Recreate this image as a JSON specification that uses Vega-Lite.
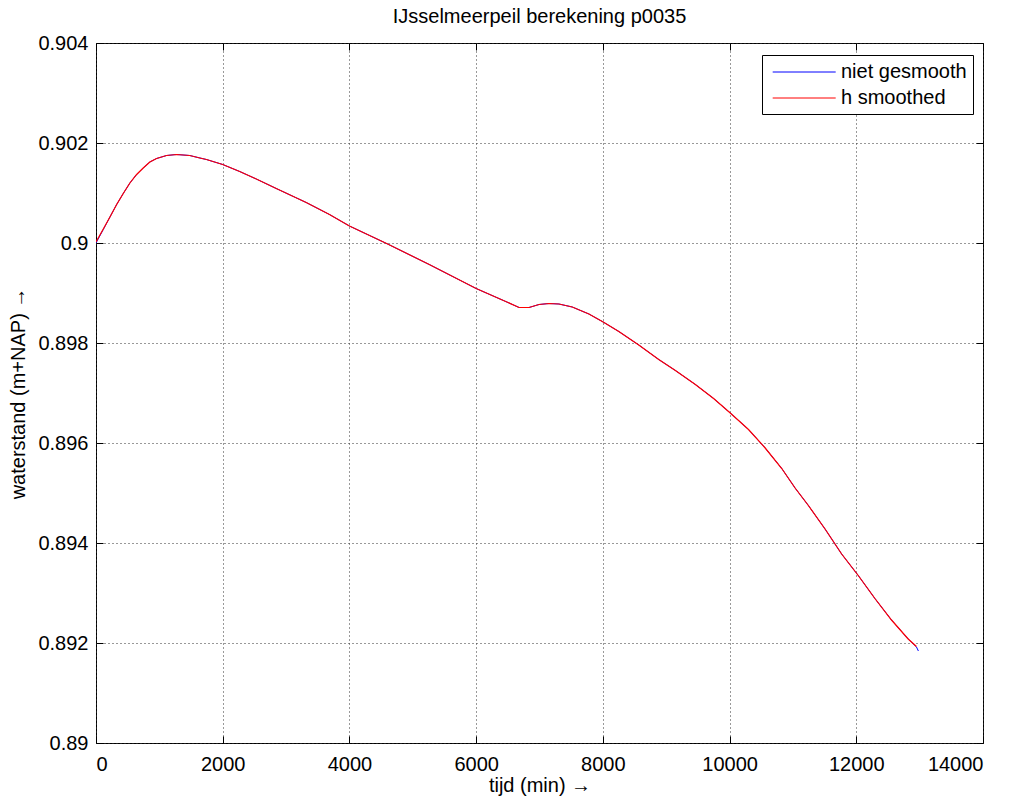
{
  "$schema": "https://vega.github.io/schema/vega-lite/v6.json",
  "width": 887,
  "height": 700,
  "autosize": {"type": "none"},
  "padding": {"left": 96, "top": 43, "right": 36, "bottom": 57},
  "background": "white",
  "title": {"text": "IJsselmeerpeil berekening p0035", "fontSize": 20, "font": "Liberation Sans", "fontWeight": "normal", "offset": 6, "anchor": "middle", "color": "black"},
  "config": {
    "view": {"stroke": "black", "strokeWidth": 1},
    "font": "Liberation Sans",
    "legend": {
      "orient": "none", "legendX": 666, "legendY": 12, "title": null,
      "symbolType": "M-0.6,0H5.4", "symbolSize": 441, "symbolStrokeWidth": 1,
      "labelFontSize": 20, "labelFont": "Liberation Sans", "labelColor": "black",
      "labelOffset": 51, "strokeColor": "black", "fillColor": "white",
      "padding": 6, "rowPadding": 5
    }
  },
  "data": {"values": [
    {"series": "niet gesmooth", "t": 0, "v": 0.9},
    {"series": "niet gesmooth", "t": 115, "v": 0.90027},
    {"series": "niet gesmooth", "t": 220, "v": 0.90052},
    {"series": "niet gesmooth", "t": 326, "v": 0.90077},
    {"series": "niet gesmooth", "t": 430, "v": 0.90099},
    {"series": "niet gesmooth", "t": 535, "v": 0.9012},
    {"series": "niet gesmooth", "t": 641, "v": 0.90137},
    {"series": "niet gesmooth", "t": 745, "v": 0.9015},
    {"series": "niet gesmooth", "t": 850, "v": 0.90162},
    {"series": "niet gesmooth", "t": 956, "v": 0.90169},
    {"series": "niet gesmooth", "t": 1113, "v": 0.90175},
    {"series": "niet gesmooth", "t": 1271, "v": 0.90177},
    {"series": "niet gesmooth", "t": 1480, "v": 0.90175},
    {"series": "niet gesmooth", "t": 1640, "v": 0.9017},
    {"series": "niet gesmooth", "t": 1743, "v": 0.90167},
    {"series": "niet gesmooth", "t": 2000, "v": 0.90157},
    {"series": "niet gesmooth", "t": 2268, "v": 0.90143},
    {"series": "niet gesmooth", "t": 2530, "v": 0.90128},
    {"series": "niet gesmooth", "t": 2845, "v": 0.90109},
    {"series": "niet gesmooth", "t": 3318, "v": 0.90081},
    {"series": "niet gesmooth", "t": 3685, "v": 0.90057},
    {"series": "niet gesmooth", "t": 4000, "v": 0.90034},
    {"series": "niet gesmooth", "t": 4603, "v": 0.89998},
    {"series": "niet gesmooth", "t": 5260, "v": 0.89957},
    {"series": "niet gesmooth", "t": 6000, "v": 0.89909},
    {"series": "niet gesmooth", "t": 6467, "v": 0.89883},
    {"series": "niet gesmooth", "t": 6677, "v": 0.89871},
    {"series": "niet gesmooth", "t": 6835, "v": 0.89871},
    {"series": "niet gesmooth", "t": 6992, "v": 0.89877},
    {"series": "niet gesmooth", "t": 7150, "v": 0.89879},
    {"series": "niet gesmooth", "t": 7307, "v": 0.89878},
    {"series": "niet gesmooth", "t": 7517, "v": 0.89872},
    {"series": "niet gesmooth", "t": 7780, "v": 0.89858},
    {"series": "niet gesmooth", "t": 8005, "v": 0.89842},
    {"series": "niet gesmooth", "t": 8252, "v": 0.89823},
    {"series": "niet gesmooth", "t": 8567, "v": 0.89796},
    {"series": "niet gesmooth", "t": 8882, "v": 0.89767},
    {"series": "niet gesmooth", "t": 9145, "v": 0.89745},
    {"series": "niet gesmooth", "t": 9460, "v": 0.89717},
    {"series": "niet gesmooth", "t": 9748, "v": 0.89689},
    {"series": "niet gesmooth", "t": 10011, "v": 0.8966},
    {"series": "niet gesmooth", "t": 10299, "v": 0.89627},
    {"series": "niet gesmooth", "t": 10562, "v": 0.8959},
    {"series": "niet gesmooth", "t": 10824, "v": 0.89549},
    {"series": "niet gesmooth", "t": 11034, "v": 0.8951},
    {"series": "niet gesmooth", "t": 11244, "v": 0.89475},
    {"series": "niet gesmooth", "t": 11507, "v": 0.89428},
    {"series": "niet gesmooth", "t": 11769, "v": 0.89378},
    {"series": "niet gesmooth", "t": 12031, "v": 0.89335},
    {"series": "niet gesmooth", "t": 12294, "v": 0.89289},
    {"series": "niet gesmooth", "t": 12556, "v": 0.89246},
    {"series": "niet gesmooth", "t": 12819, "v": 0.89208},
    {"series": "niet gesmooth", "t": 12950, "v": 0.89192},
    {"series": "niet gesmooth", "t": 12980, "v": 0.89184},
    {"series": "h smoothed", "t": 0, "v": 0.90002},
    {"series": "h smoothed", "t": 115, "v": 0.90028},
    {"series": "h smoothed", "t": 220, "v": 0.90052},
    {"series": "h smoothed", "t": 326, "v": 0.90077},
    {"series": "h smoothed", "t": 430, "v": 0.90099},
    {"series": "h smoothed", "t": 535, "v": 0.9012},
    {"series": "h smoothed", "t": 641, "v": 0.90137},
    {"series": "h smoothed", "t": 745, "v": 0.9015},
    {"series": "h smoothed", "t": 850, "v": 0.90162},
    {"series": "h smoothed", "t": 956, "v": 0.90169},
    {"series": "h smoothed", "t": 1113, "v": 0.90175},
    {"series": "h smoothed", "t": 1271, "v": 0.90177},
    {"series": "h smoothed", "t": 1480, "v": 0.90175},
    {"series": "h smoothed", "t": 1640, "v": 0.9017},
    {"series": "h smoothed", "t": 1743, "v": 0.90167},
    {"series": "h smoothed", "t": 2000, "v": 0.90157},
    {"series": "h smoothed", "t": 2268, "v": 0.90143},
    {"series": "h smoothed", "t": 2530, "v": 0.90128},
    {"series": "h smoothed", "t": 2845, "v": 0.90109},
    {"series": "h smoothed", "t": 3318, "v": 0.90081},
    {"series": "h smoothed", "t": 3685, "v": 0.90057},
    {"series": "h smoothed", "t": 4000, "v": 0.90034},
    {"series": "h smoothed", "t": 4603, "v": 0.89998},
    {"series": "h smoothed", "t": 5260, "v": 0.89957},
    {"series": "h smoothed", "t": 6000, "v": 0.89909},
    {"series": "h smoothed", "t": 6467, "v": 0.89883},
    {"series": "h smoothed", "t": 6677, "v": 0.89871},
    {"series": "h smoothed", "t": 6835, "v": 0.89871},
    {"series": "h smoothed", "t": 6992, "v": 0.89877},
    {"series": "h smoothed", "t": 7150, "v": 0.89879},
    {"series": "h smoothed", "t": 7307, "v": 0.89878},
    {"series": "h smoothed", "t": 7517, "v": 0.89872},
    {"series": "h smoothed", "t": 7780, "v": 0.89858},
    {"series": "h smoothed", "t": 8005, "v": 0.89842},
    {"series": "h smoothed", "t": 8252, "v": 0.89823},
    {"series": "h smoothed", "t": 8567, "v": 0.89796},
    {"series": "h smoothed", "t": 8882, "v": 0.89767},
    {"series": "h smoothed", "t": 9145, "v": 0.89745},
    {"series": "h smoothed", "t": 9460, "v": 0.89717},
    {"series": "h smoothed", "t": 9748, "v": 0.89689},
    {"series": "h smoothed", "t": 10011, "v": 0.8966},
    {"series": "h smoothed", "t": 10299, "v": 0.89627},
    {"series": "h smoothed", "t": 10562, "v": 0.8959},
    {"series": "h smoothed", "t": 10824, "v": 0.89549},
    {"series": "h smoothed", "t": 11034, "v": 0.8951},
    {"series": "h smoothed", "t": 11244, "v": 0.89475},
    {"series": "h smoothed", "t": 11507, "v": 0.89428},
    {"series": "h smoothed", "t": 11769, "v": 0.89378},
    {"series": "h smoothed", "t": 12031, "v": 0.89335},
    {"series": "h smoothed", "t": 12294, "v": 0.89289},
    {"series": "h smoothed", "t": 12556, "v": 0.89246},
    {"series": "h smoothed", "t": 12819, "v": 0.89208},
    {"series": "h smoothed", "t": 12950, "v": 0.89193}
  ]},
  "layer": [
    {
      "transform": [{"filter": "datum.series === 'niet gesmooth'"}],
      "mark": {"type": "line", "strokeWidth": 1, "clip": true},
      "encoding": {
        "x": {"field": "t", "type": "quantitative",
              "scale": {"domain": [0, 14000], "nice": false, "zero": false},
              "axis": {"orient": "bottom", "title": "tijd (min) →", "titleFontSize": 20, "titleFont": "Liberation Sans", "titleFontWeight": "normal", "titleColor": "black", "titlePadding": 1,
                       "values": [0, 2000, 4000, 6000, 8000, 10000, 12000, 14000], "format": "d",
                       "labelFontSize": 20, "labelFont": "Liberation Sans", "labelColor": "black", "labelPadding": 18,
                       "domain": false, "tickSize": -7, "tickColor": "black",
                       "grid": true, "gridColor": "#333", "gridDash": [1, 3], "gridWidth": 1}},
        "y": {"field": "v", "type": "quantitative",
              "scale": {"domain": [0.89, 0.904], "nice": false, "zero": false},
              "axis": {"orient": "left", "title": "waterstand (m+NAP) →", "titleFontSize": 20, "titleFont": "Liberation Sans", "titleFontWeight": "normal", "titleColor": "black", "titlePadding": 9,
                       "values": [0.89, 0.892, 0.894, 0.896, 0.898, 0.9, 0.902, 0.904],
                       "labelExpr": "format(datum.value, '.3~f')",
                       "labelFontSize": 20, "labelFont": "Liberation Sans", "labelColor": "black", "labelPadding": 15,
                       "domain": false, "tickSize": -7, "tickColor": "black",
                       "grid": true, "gridColor": "#333", "gridDash": [1, 3], "gridWidth": 1}},
        "color": {"field": "series", "type": "nominal",
                  "scale": {"domain": ["niet gesmooth", "h smoothed"], "range": ["#0000ff", "#ff0000"]}}
      }
    },
    {
      "transform": [{"filter": "datum.series === 'h smoothed'"}],
      "mark": {"type": "line", "strokeWidth": 1.2, "clip": true},
      "encoding": {
        "x": {"field": "t", "type": "quantitative",
              "axis": {"orient": "top", "title": null, "labels": false, "domain": false, "grid": false,
                       "values": [0, 2000, 4000, 6000, 8000, 10000, 12000, 14000], "tickSize": -7, "tickColor": "black"}},
        "y": {"field": "v", "type": "quantitative",
              "axis": {"orient": "right", "title": null, "labels": false, "domain": false, "grid": false,
                       "values": [0.89, 0.892, 0.894, 0.896, 0.898, 0.9, 0.902, 0.904], "tickSize": -7, "tickColor": "black"}},
        "color": {"field": "series", "type": "nominal"}
      }
    }
  ],
  "resolve": {"axis": {"x": "independent", "y": "independent"}}
}
